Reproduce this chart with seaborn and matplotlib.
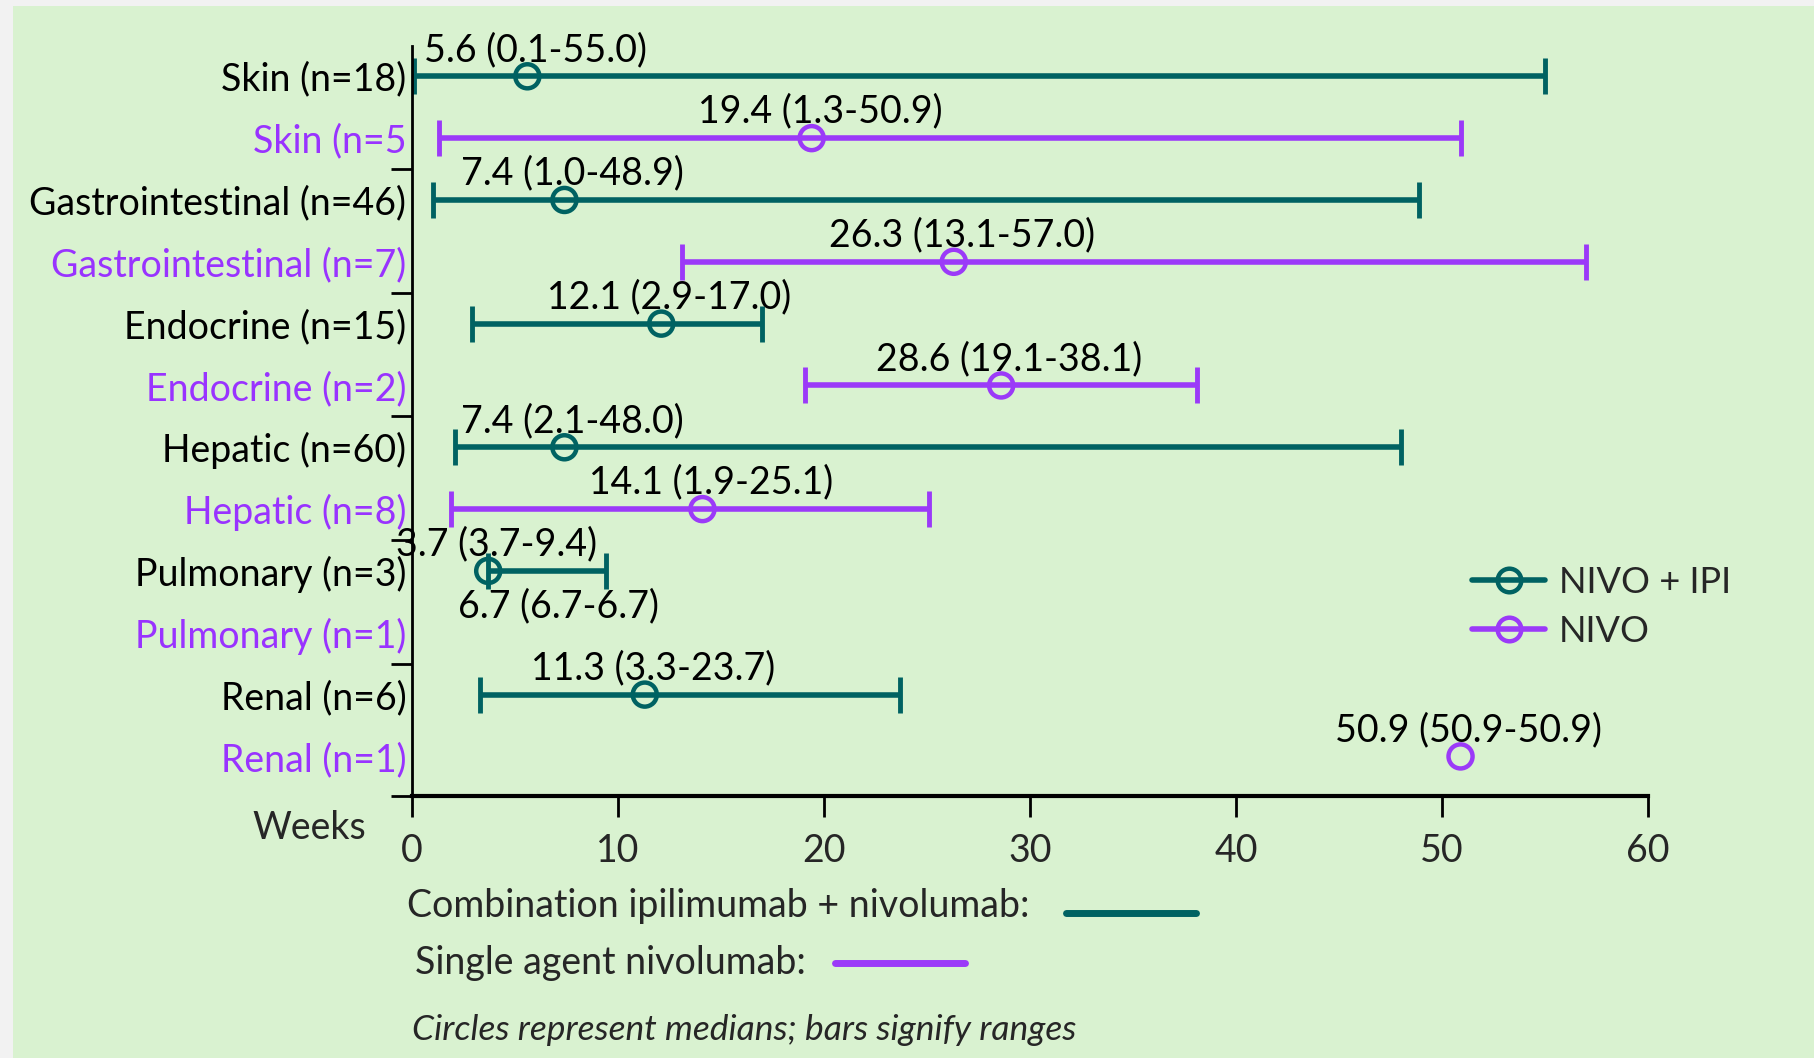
import numpy as np
import pandas as pd
import seaborn as sns
import matplotlib.pyplot as plt
from matplotlib.lines import Line2D
from matplotlib.patches import Rectangle

# rows top to bottom
labels = ["Skin (n=18)", "Skin (n=5", "Gastrointestinal (n=46)", "Gastrointestinal (n=7)",
          "Endocrine (n=15)", "Endocrine (n=2)", "Hepatic (n=60)", "Hepatic (n=8)",
          "Pulmonary (n=3)", "Pulmonary (n=1)", "Renal (n=6)", "Renal (n=1)"]
groups = ["NIVO + IPI", "NIVO"] * 6
medians = [5.6, 19.4, 7.4, 26.3, 12.1, 28.6, 7.4, 14.1, 3.7, 6.7, 11.3, 50.9]
lows = [0.1, 1.3, 1.0, 13.1, 2.9, 19.1, 2.1, 1.9, 3.7, 6.7, 3.3, 50.9]
highs = [55.0, 50.9, 48.9, 57.0, 17.0, 38.1, 48.0, 25.1, 9.4, 6.7, 23.7, 50.9]
# the Pulmonary (n=1) row has only its label text in the original
marker_shown = [True] * 9 + [False] + [True, True]

teal = "#006262"
purple = "#9B3AF8"
bg = "#D9F2D0"
palette = {"NIVO + IPI": teal, "NIVO": purple}
label_colors = {"NIVO + IPI": "black", "NIVO": "#9933FF"}

df = pd.DataFrame({"label": labels, "group": groups, "median": medians,
                   "low": lows, "high": highs, "shown": marker_shown})
df["pos"] = np.arange(len(df))

sns.set_theme(style="ticks")
plt.rcParams["font.family"] = ["Lato", "DejaVu Sans"]
fs = 27

fig = plt.figure(figsize=(18.14, 10.58), dpi=100)
fig.patch.set_facecolor("#F2F2F2")
fig.add_artist(Rectangle((13 / 1814, 0), 1, 1 - 6 / 1058, transform=fig.transFigure,
                         fc=bg, ec="none", zorder=-10))
ax = fig.add_axes([412 / 1814, 1 - 796 / 1058, 1236 / 1814, 750 / 1058])
ax.set_facecolor("none")

for grp, col in palette.items():
    sub = df[(df.group == grp) & (df.high > df.low)]
    ax.errorbar(sub["median"], sub["pos"],
                xerr=[sub["median"] - sub["low"], sub["high"] - sub["median"]],
                fmt="none", ecolor=col, elinewidth=4, capsize=13, capthick=3.5)
    pts = df[(df.group == grp) & df.shown]
    sns.scatterplot(data=pts, x="median", y="pos", marker="o", s=300,
                    facecolor="none", edgecolor=col, linewidth=3.2,
                    ax=ax, zorder=3, legend=False)

for _, r in df.iterrows():
    ax.annotate(f"{r['median']:.1f} ({r['low']:.1f}-{r['high']:.1f})",
                (r["median"], r["pos"]), xytext=(6, 19), textcoords="offset points",
                ha="center", va="center", fontsize=fs, color="black")

ax.set_xlim(0, 60)
ax.set_ylim(11.64, -0.49)
ax.set_xticks(range(0, 61, 10))
ax.set_yticks([1.5, 3.5, 5.5, 7.5, 9.5, 11.64])
ax.set_yticklabels([])
ax.set_yticks(df["pos"], labels=df["label"], minor=True)
ax.tick_params(axis="y", which="minor", length=0, pad=4, labelsize=fs)
ax.tick_params(axis="y", which="major", length=15, width=2, color="black")
ax.tick_params(axis="x", length=15, width=2, pad=12, labelsize=fs, color="black")
for t, g in zip(ax.get_yticklabels(minor=True), df["group"]):
    t.set_color(label_colors[g])
ax.set_xlabel("")
ax.set_ylabel("")
ax.spines[["top", "right"]].set_visible(False)
ax.spines["left"].set_linewidth(2)
ax.spines["bottom"].set_linewidth(3)
ax.spines["left"].set_color("black")
ax.spines["bottom"].set_color("black")

ax.text(-0.037, -0.043, "Weeks", transform=ax.transAxes, ha="right", va="center", fontsize=fs)

handles = [Line2D([], [], color=palette[g], lw=4, marker="o", ms=17, mfc="none", mew=3.2)
           for g in palette]
ax.legend(handles, list(palette), loc="center left", bbox_to_anchor=(0.858, 0.252),
          frameon=False, handlelength=2.0, handletextpad=0.4, labelspacing=0.45,
          borderpad=0, borderaxespad=0, fontsize=26)

fig.text(407 / 1814, 1 - 906 / 1058, "Combination ipilimumab + nivolumab:",
         ha="left", va="center", fontsize=fs)
fig.add_artist(Line2D([1066 / 1814, 1196 / 1814], [1 - 913 / 1058] * 2,
                      transform=fig.transFigure, color=teal, lw=5))
fig.text(415 / 1814, 1 - 963 / 1058, "Single agent nivolumab:",
         ha="left", va="center", fontsize=fs)
fig.add_artist(Line2D([835 / 1814, 965 / 1814], [1 - 963 / 1058] * 2,
                      transform=fig.transFigure, color=purple, lw=5))
fig.text(412 / 1814, 1 - 1030 / 1058, "Circles represent medians; bars signify ranges",
         ha="left", va="center", fontsize=25.5, style="italic")

fig.savefig("out.png", dpi=100, facecolor=fig.get_facecolor())
